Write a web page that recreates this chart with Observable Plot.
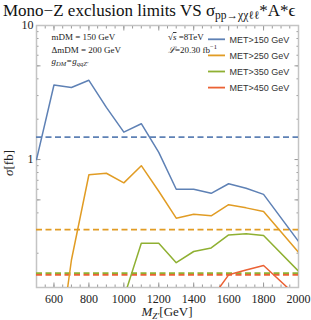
<!DOCTYPE html>
<html><head><meta charset="utf-8">
<script src="https://cdn.jsdelivr.net/npm/d3@7"></script>
<script src="https://cdn.jsdelivr.net/npm/@observablehq/plot@0.6"></script>
<style>body{margin:0;background:#fff}svg{display:block}</style>
</head><body><div id="chart"></div>
<script>
const seriesNames = ["MET>150 GeV","MET>250 GeV","MET>350 GeV","MET>450 GeV"];
const colors = ["#5E81B5","#E19C24","#8FB032","#EB6235"];
const mz150 = [500,600,700,800,900,1000,1100,1200,1300,1400,1500,1600,1700,1800,2000];
const sig150 = [1.0,3.6,3.45,3.9,2.45,1.6,1.85,1.13,0.6,0.6,0.56,0.66,0.61,0.55,0.245];
const mz250 = [600,700,800,900,1000,1100,1200,1300,1400,1500,1600,1700,1800,2000];
const sig250 = [0.02,0.178,0.77,0.79,0.67,0.9,0.58,0.365,0.39,0.38,0.46,0.436,0.41,0.203];
const mz350 = [1000,1100,1200,1300,1400,1500,1600,1700,1800,2000];
const sig350 = [0.093,0.237,0.237,0.17,0.206,0.219,0.274,0.279,0.271,0.147];
const mz450 = [1500,1600,1700,1800,2000];
const sig450 = [0.091,0.138,0.150,0.162,0.093];
const limits = [1.47,0.30,0.142,0.138];
const xMajor = [600,800,1000,1200,1400,1600,1800,2000];
const xMinor = d3.range(500,2001,50);
const yMajor = [0.5,1,5,10];
const yMinor = [0.2,0.3,0.4,0.5,0.6,0.7,0.8,0.9,1,2,3,4,5,6,7,8,9,10];

const curves = [[mz150,sig150],[mz250,sig250],[mz350,sig350],[mz450,sig450]].map(([xs,ys],i)=>
  xs.map((x,j)=>({series:seriesNames[i], mz:x, sigma:ys[j]})));
const lims = limits.map((v,i)=>({series:seriesNames[i], v}));

const serif = "Liberation Serif, Times New Roman, serif";
const sans = "Liberation Sans, Arial, sans-serif";

const svg = Plot.plot({
  width:311, height:320,
  marginTop:25, marginRight:13, marginBottom:33, marginLeft:36,
  style:{fontFamily:serif, fontSize:"12px", color:"#222", background:"#fff"},
  x:{domain:[500,2000]},
  y:{type:"log", domain:[0.111,10]},
  color:{domain:seriesNames, range:colors},
  marks:[
    Plot.axisX(xMinor,{tickSize:-2.5, tickFormat:()=>"", stroke:"#999", label:null}),
    Plot.axisX(xMajor,{tickSize:-4.5, tickFormat:()=>"", stroke:"#999", label:null}),
    Plot.axisX(xMajor,{tickSize:0, tickPadding:7, fill:"#222", label:null, fontSize:12, tickFormat:d=>String(d)}),
    Plot.axisX(xMinor,{anchor:"top", tickSize:-2.5, tickFormat:()=>"", stroke:"#999", label:null}),
    Plot.axisX(xMajor,{anchor:"top", tickSize:-4.5, tickFormat:()=>"", stroke:"#999", label:null}),
    Plot.axisY(yMinor,{tickSize:-2.5, tickFormat:()=>"", stroke:"#999", label:null}),
    Plot.axisY(yMajor,{tickSize:-4.5, tickFormat:()=>"", stroke:"#999", label:null}),
    Plot.axisY(yMajor,{tickSize:0, tickPadding:3, fill:"#222", label:null, fontSize:12, tickFormat:d=>String(d)}),
    Plot.axisY(yMinor,{anchor:"right", tickSize:-2.5, tickFormat:()=>"", stroke:"#999", label:null}),
    Plot.axisY(yMajor,{anchor:"right", tickSize:-4.5, tickFormat:()=>"", stroke:"#999", label:null}),
    Plot.frame({stroke:"#c4c4c4", strokeWidth:1.5}),
    Plot.ruleY(lims,{y:"v", stroke:"series", strokeWidth:1.6, strokeDasharray:"6,3.5"}),
    ...curves.map(c=>Plot.line(c,{x:"mz", y:"sigma", stroke:"series", strokeWidth:1.5, clip:true}))
  ]
});
document.getElementById("chart").appendChild(svg);

const s = d3.select(svg);
const txt = (x,y,fs,font)=>s.append("text").attr("x",x).attr("y",y).attr("font-family",font||serif).attr("font-size",fs).attr("fill","#222").attr("text-anchor","start");
// title
const t = txt(3,15.5,17).attr("fill","#111");
t.append("tspan").text("Mono−Z exclusion limits VS σ");
t.append("tspan").attr("font-size",11.5).attr("dy",3).text("pp→χχℓℓ");
t.append("tspan").attr("dy",-3).text("*A*ϵ");
// x label
const xl = txt(167,316,13).attr("text-anchor","middle");
xl.append("tspan").attr("font-style","italic").text("M");
xl.append("tspan").attr("font-style","italic").attr("font-size",9).attr("dy",3).text("Z′");
xl.append("tspan").attr("dy",-3).text("[GeV]");
// y label
const yl = s.append("text").attr("transform","translate(13,163) rotate(-90)").attr("text-anchor","middle").attr("font-family",serif).attr("font-size",13).attr("fill","#222");
yl.append("tspan").attr("font-style","italic").text("σ");
yl.append("tspan").text("[fb]");
// annotations
txt(51.5,40,9).text("mDM = 150 GeV");
txt(51.5,52.5,9).text("ΔmDM = 200 GeV");
const g = txt(51.5,64,9).attr("font-style","italic");
g.append("tspan").text("g");
g.append("tspan").attr("font-size",6.5).attr("dy",1.5).text("DM");
g.append("tspan").attr("dy",-1.5).text("=g");
g.append("tspan").attr("font-size",6.5).attr("dy",1.5).text("qqZ′");
const rs = txt(168,40,9);
rs.append("tspan").text("√");
rs.append("tspan").attr("font-style","italic").attr("text-decoration","overline").text("s");
rs.append("tspan").text(" =8TeV");
const lum = txt(168,52.5,9);
lum.append("tspan").attr("font-style","italic").text("ℒ");
lum.append("tspan").text("=20.30 fb");
lum.append("tspan").attr("font-size",6.5).attr("dy",-3.5).text("−1");
// legend
seriesNames.forEach((n,i)=>{
  const y = 39.3 + i*16.1;
  s.append("line").attr("x1",208).attr("x2",225).attr("y1",y).attr("y2",y).attr("stroke",colors[i]).attr("stroke-width",1.8);
  txt(229.5,y+3.2,9,sans).attr("fill","#333").text(n);
});
</script></body></html>
